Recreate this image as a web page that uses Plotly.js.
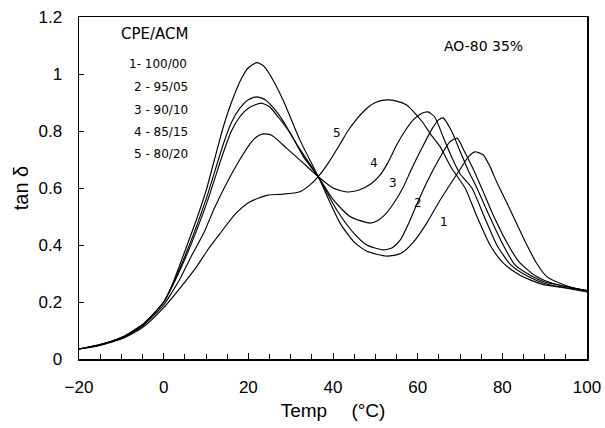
<!DOCTYPE html>
<html><head><meta charset="utf-8">
<script src="https://cdn.plot.ly/plotly-3.0.1.min.js"></script>
<style>html,body{margin:0;padding:0;background:#fff}#c{width:605px;height:428px}</style>
</head><body><div id="c"></div>
<script>
// Curve 1: CPE/ACM 100/00
const x1 = [-20,-15,-10,-5,0,2,5.4,8,10.2,12,14.1,16,18.4,20,22,23.5,25,28.2,32.2,36.5,41.7,45,48,52.7,56,59,62.1,65,68,70,72,73.5,75.5,77.1,78.7,81,83.4,85.8,88.1,90.5,95,100];
const y1 = [0.035,0.05,0.075,0.12,0.2,0.26,0.394,0.5,0.6,0.7,0.815,0.9,0.985,1.022,1.04,1.03,1.0,0.909,0.768,0.64,0.476,0.41,0.378,0.361,0.37,0.41,0.476,0.55,0.62,0.665,0.71,0.727,0.716,0.675,0.62,0.55,0.475,0.4,0.336,0.289,0.258,0.238];
// Curve 2: 95/05
const x2 = [-20,-15,-10,-5,0,5,10,14,16,18,20,22,24,26,28,32,36.5,41,45,48,51.8,54,56,58,60,62.5,65,67.5,69.3,71,73,75.1,78,81.4,84,88,92,100];
const y2 = [0.035,0.05,0.075,0.12,0.2,0.36,0.56,0.75,0.83,0.88,0.91,0.92,0.91,0.88,0.84,0.74,0.64,0.52,0.44,0.4,0.383,0.39,0.42,0.48,0.55,0.63,0.7,0.76,0.775,0.73,0.67,0.6,0.5,0.4,0.34,0.29,0.265,0.24];
// Curve 3: 90/10
const x3 = [-20,-15,-10,-5,0,5,10,14,16,18,20,23,25,27,30,33,36.5,40,44,48.7,50.5,52.5,54.5,56.5,58.5,61,63.5,65,66,68,70,72,74,77,80.2,83,87,90,100];
const y3 = [0.035,0.05,0.075,0.12,0.2,0.35,0.54,0.72,0.8,0.85,0.88,0.898,0.885,0.85,0.79,0.71,0.64,0.56,0.5,0.477,0.485,0.51,0.55,0.6,0.665,0.74,0.81,0.84,0.846,0.8,0.73,0.66,0.6,0.5,0.4,0.33,0.29,0.27,0.24];
// Curve 4: 85/15
const x4 = [-20,-15,-10,-5,0,2,4,6.5,9.4,12,15,18,20.4,22,23.5,25.5,29,32.2,36.5,40,43.3,46,49,51.1,53,55,57,59,61,62.4,64,66,68,70,72.8,76,78.7,82,86,90,100];
const y4 = [0.035,0.048,0.072,0.115,0.19,0.235,0.285,0.36,0.44,0.53,0.62,0.7,0.755,0.78,0.79,0.785,0.74,0.698,0.64,0.6,0.586,0.592,0.615,0.645,0.69,0.75,0.8,0.84,0.862,0.867,0.85,0.78,0.71,0.65,0.6,0.49,0.4,0.33,0.29,0.265,0.235];
// Curve 5: 80/20
const x5 = [-20,-10,-5,0,5,7.8,10.5,13.3,17,20.4,24.6,28,32.2,34.5,36.5,39,41.7,43.5,45.5,48,50,52.7,55,57.4,59.5,61.3,63,65.3,68,71.2,74,77.1,80,83.5,87,90,95,100];
const y5 = [0.035,0.07,0.11,0.18,0.27,0.324,0.385,0.44,0.51,0.552,0.575,0.578,0.587,0.61,0.64,0.69,0.755,0.8,0.84,0.88,0.9,0.909,0.905,0.891,0.86,0.828,0.79,0.745,0.67,0.6,0.5,0.4,0.34,0.3,0.275,0.26,0.25,0.24];

const legendLines = ["1- 100/00","2 - 95/05","3 - 90/10","4 - 85/15","5 - 80/20"];
const curveLabels = ["1","2","3","4","5"];
const labelX = [66.2,60,54.2,49.8,40.9];
const labelY = [0.48,0.548,0.617,0.688,0.793];

const series = [[x1,y1],[x2,y2],[x3,y3],[x4,y4],[x5,y5]];
const traces = series.map(s => ({
  x: s[0], y: s[1], type: 'scatter', mode: 'lines',
  line: {color: '#000', width: 1.15, shape: 'spline', smoothing: 0.6},
  hoverinfo: 'skip', showlegend: false
}));

const font = 'Liberation Sans, Arial, sans-serif';
const afont = 'DejaVu Sans, sans-serif';
const ann = [];
ann.push({xref:'paper', yref:'paper', x:0.078, y:0.951, text:'CPE/ACM', showarrow:false,
  xanchor:'left', yanchor:'middle', font:{family:afont, size:15, color:'#000'}});
const legY = [0.862, 0.795, 0.728, 0.663, 0.599];
legendLines.forEach((t,i) => ann.push({xref:'paper', yref:'paper', x: i===0?0.094:0.104, y: legY[i], text:t,
  showarrow:false, xanchor:'left', yanchor:'middle', font:{family:afont, size:12, color:'#000'}}));
ann.push({xref:'paper', yref:'paper', x:0.714, y:0.915, text:'AO-80 35%', showarrow:false,
  xanchor:'left', yanchor:'middle', font:{family:afont, size:14, color:'#000'}});
curveLabels.forEach((t,i) => ann.push({x:labelX[i], y:labelY[i], text:t, showarrow:false,
  xanchor:'center', yanchor:'middle', font:{family:afont, size:12, color:'#000'}}));

const layout = {
  width: 605, height: 428,
  margin: {l:79, r:18, t:17, b:69},
  paper_bgcolor:'#fff', plot_bgcolor:'#fff',
  showlegend:false,
  font:{family:font, color:'#000'},
  xaxis: {
    range:[-20,100], dtick:20, tick0:-20, showgrid:false, zeroline:false,
    showline:true, linecolor:'#000', linewidth:1.5, mirror:true,
    ticks:'inside', ticklen:6, tickcolor:'#000',
    minor:{dtick:5, ticks:'inside', ticklen:5, tickcolor:'#000'},
    ticklabelstandoff: 12,
    tickfont:{family:font, size:17, color:'#000'},
    title:{text:'Temp\u2003\u00a0(\u00b0C)', font:{family:font, size:19, color:'#000'}, standoff:8}
  },
  yaxis: {
    range:[0,1.2], dtick:0.2, showgrid:false, zeroline:false,
    showline:true, linecolor:'#000', linewidth:1.5, mirror:true,
    ticks:'inside', ticklen:5, tickcolor:'#000',
    ticklabelstandoff: 12,
    tickfont:{family:font, size:17, color:'#000'},
    title:{text:'tan \u03b4', font:{family:font, size:20, color:'#000'}, standoff:4}
  },
  annotations: ann
};
Plotly.newPlot('c', traces, layout, {staticPlot:true, displayModeBar:false});
</script></body></html>
